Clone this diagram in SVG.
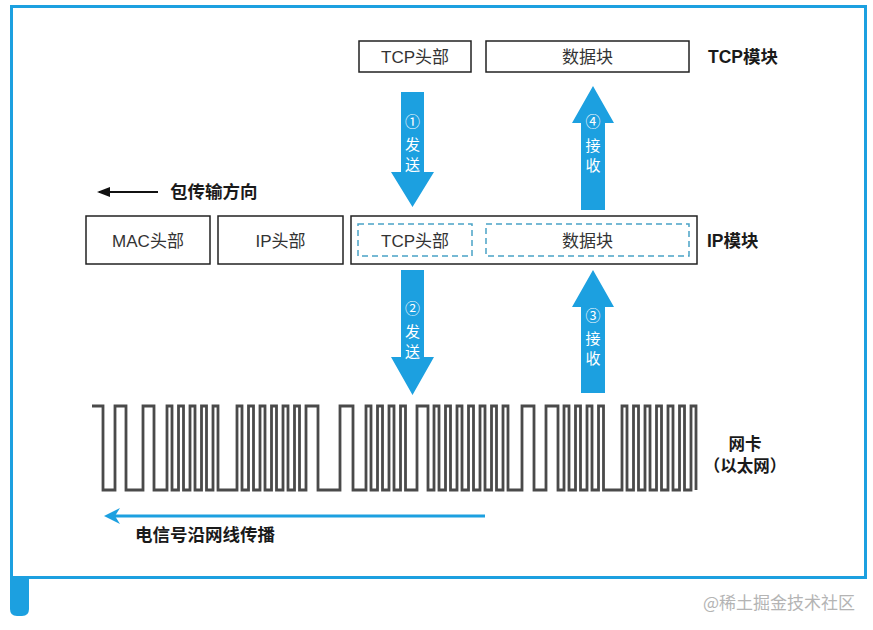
<svg xmlns="http://www.w3.org/2000/svg" width="873" height="630" viewBox="0 0 873 630">
<style>
.box{fill:#fff;stroke:#222;stroke-width:1.5}
.dash{fill:none;stroke:#4aa3c6;stroke-width:1.5;stroke-dasharray:6 4}
.lbl{font-family:"Liberation Sans","Noto Sans CJK SC",sans-serif;font-size:17px;fill:#333;text-anchor:middle;dominant-baseline:central}
.bold{font-family:"Liberation Sans","Noto Sans CJK SC",sans-serif;font-size:17.5px;font-weight:bold;fill:#1a1a1a;dominant-baseline:central}
.nic{font-family:"Liberation Sans","Noto Sans CJK SC",sans-serif;font-size:16.5px;font-weight:bold;fill:#1a1a1a;dominant-baseline:central;text-anchor:middle}
.arr{fill:#1ca0e0}
.at{font-family:"Noto Sans CJK SC",sans-serif;font-size:15px;fill:#fff;text-anchor:middle;dominant-baseline:central}
</style>
<defs>
<marker id="ha" markerWidth="13" markerHeight="10" refX="11" refY="5" orient="auto" markerUnits="userSpaceOnUse">
<path d="M13,5 L0,0 L0,10 Z" fill="#111"/>
</marker>
<marker id="hb" markerWidth="16" markerHeight="16" refX="12" refY="8" orient="auto" markerUnits="userSpaceOnUse">
<path d="M16,8 L0,0 L5,8 L0,16 Z" fill="#1ca0e0"/>
</marker>
</defs>
<rect width="873" height="630" fill="#fff"/>
<g id="frame">
<rect x="11.5" y="6.5" width="854" height="571" fill="none" stroke="#1ca0e0" stroke-width="3"/>
<path d="M10,576 H29 V609 Q29,616 22,616 H17 Q10,616 10,609 Z" fill="#1ca0e0"/>
</g>
<g id="tcp-header"><rect class="box" x="359" y="41" width="112" height="31"/><text class="lbl" x="415" y="57">TCP头部</text></g>
<g id="tcp-data"><rect class="box" x="486" y="41" width="203" height="31"/><text class="lbl" x="587.5" y="57">数据块</text></g>
<g id="tcp-module"><text class="bold" x="708" y="57">TCP模块</text></g>
<g id="direction"><text class="bold" x="170" y="192">包传输方向</text></g>
<g id="mac-header"><rect class="box" x="86" y="216" width="124" height="48"/><text class="lbl" x="148" y="241">MAC头部</text></g>
<g id="ip-header"><rect class="box" x="218" y="216" width="125" height="48"/><text class="lbl" x="280.5" y="241">IP头部</text></g>
<g id="ip-payload"><rect class="box" x="351" y="216" width="346" height="48"/>
<rect class="dash" x="358" y="224" width="114" height="32"/><text class="lbl" x="415" y="241">TCP头部</text>
<rect class="dash" x="486" y="224" width="203" height="32"/><text class="lbl" x="587.5" y="241">数据块</text></g>
<g id="ip-module"><text class="bold" x="707" y="241">IP模块</text></g>
<g id="nic"><text class="nic" x="745" y="444">网卡</text><text class="nic" x="745" y="466">（以太网）</text></g>
<g id="signal-label"><text class="bold" x="135" y="535">电信号沿网线传播</text></g>
<g id="waveform">
<path fill="none" stroke="#4a4a4a" stroke-width="2.8" d="M92,406 H103 V490 H115 V406 H126 V490 H143 V406 H154 V490 H167 V406 H172 V490 H178.5 V406 H183.5 V490 H190 V406 H195 V490 H201.5 V406 H206.5 V490 H213 V406 H218 V490 H237 V406 H242 V490 H248.5 V406 H253.5 V490 H260 V406 H265 V490 H271.5 V406 H276.5 V490 H283 V406 H288 V490 H294.5 V406 H299.5 V490 H306 V406 H318 V490 H340 V406 H353 V490 H366 V406 H371 V490 H377.5 V406 H382.5 V490 H389 V406 H394 V490 H400.5 V406 H405.5 V490 H417 V406 H428 V490 H434 V406 H439 V490 H445.5 V406 H450.5 V490 H457 V406 H462 V490 H468.5 V406 H473.5 V490 H480 V406 H485 V490 H491.5 V406 H496.5 V490 H503 V406 H508 V490 H522 V406 H534 V490 H546 V406 H558 V490 H564 V406 H569 V490 H575.5 V406 H580.5 V490 H587 V406 H592 V490 H598.5 V406 H603.5 V490 H622 V406 H627 V490 H633.5 V406 H638.5 V490 H645 V406 H650 V490 H656.5 V406 H661.5 V490 H668 V406 H673 V490 H679.5 V406 H684.5 V490 H691 V406 H696 V490"/>
</g>
<g id="connectors">
<line x1="158" y1="192" x2="99" y2="192" stroke="#111" stroke-width="2" marker-end="url(#ha)"/>
<line x1="485" y1="516" x2="108" y2="516" stroke="#1ca0e0" stroke-width="3" marker-end="url(#hb)"/>
<g id="arrow1"><polygon class="arr" points="401,92 424,92 424,172 434,172 412.5,207 391,172 401,172"/>
<text class="at" x="412.5" y="120">①</text><text class="at" x="412.5" y="143">发</text><text class="at" x="412.5" y="163">送</text></g>
<g id="arrow2"><polygon class="arr" points="401,270 424,270 424,357 434,357 412.5,395 391,357 401,357"/>
<text class="at" x="412.5" y="307">②</text><text class="at" x="412.5" y="330">发</text><text class="at" x="412.5" y="350">送</text></g>
<g id="arrow3"><polygon class="arr" points="593,270 614,307 605,307 605,393 581,393 581,307 572,307"/>
<text class="at" x="593" y="314">③</text><text class="at" x="593" y="337">接</text><text class="at" x="593" y="357">收</text></g>
<g id="arrow4"><polygon class="arr" points="593,86 614,123 605,123 605,210 581,210 581,123 572,123"/>
<text class="at" x="593" y="120">④</text><text class="at" x="593" y="144">接</text><text class="at" x="593" y="164">收</text></g>
</g>
<g id="watermark"><text x="855" y="601" text-anchor="end" dominant-baseline="central" font-family="Noto Sans CJK SC,sans-serif" font-size="17" fill="#b4b4b4">@稀土掘金技术社区</text></g>
</svg>
